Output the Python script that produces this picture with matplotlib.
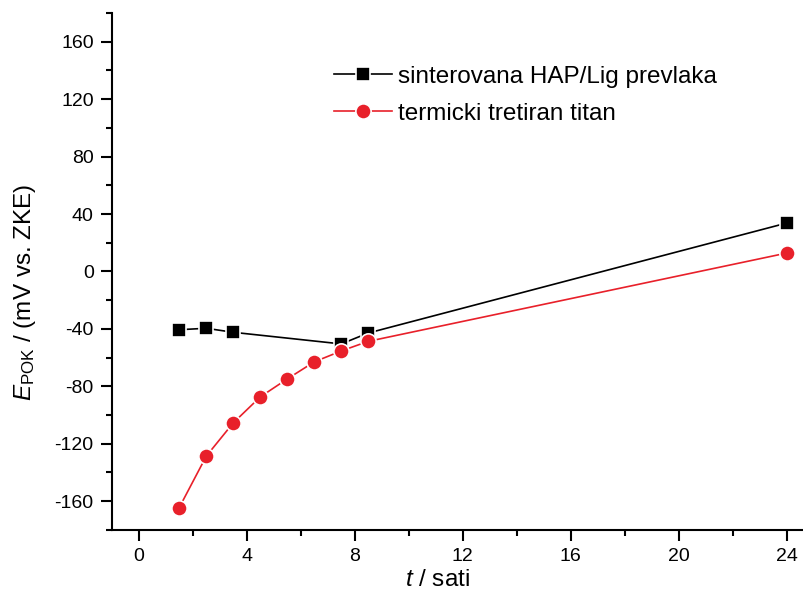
import numpy as np
import matplotlib
matplotlib.use("Agg")
import matplotlib.pyplot as plt
from matplotlib.ticker import MultipleLocator

plt.rcParams['font.family'] = ['Liberation Sans', 'DejaVu Sans']
plt.rcParams['mathtext.fontset'] = 'custom'
plt.rcParams['mathtext.rm'] = 'Liberation Sans'
plt.rcParams['mathtext.it'] = 'Liberation Sans:italic'
plt.rcParams['axes.unicode_minus'] = False

# podaci
t_hap = [1.5, 2.5, 3.5, 7.5, 8.5, 24]
e_hap = [-40.6, -39.6, -42.4, -50.5, -42.9, 33.7]
t_ti = [1.5, 2.5, 3.5, 4.5, 5.5, 6.5, 7.5, 8.5, 24]
e_ti = [-164.5, -128.7, -105.5, -87.4, -74.9, -63.0, -55.4, -48.7, 12.8]
labels = ["sinterovana HAP/Lig prevlaka", "termicki tretiran titan"]

fig = plt.figure(figsize=(8.04, 5.92), dpi=100)
ax = fig.add_axes([0.139, 0.105, 0.861, 0.873])

ax.plot(t_hap, e_hap, color="black", marker="s", markersize=10, linewidth=1.2,
        markeredgecolor="white", markeredgewidth=1.2, label=labels[0])
ax.plot(t_ti, e_ti, color="#e8202a", marker="o", markersize=11, linewidth=1.2,
        markeredgecolor="white", markeredgewidth=1.2, label=labels[1])

ax.set_xlim(-1, 24.64)
ax.set_ylim(-180, 180)
ax.xaxis.set_major_locator(MultipleLocator(4))
ax.xaxis.set_minor_locator(MultipleLocator(2))
ax.yaxis.set_major_locator(MultipleLocator(40))
ax.yaxis.set_minor_locator(MultipleLocator(20))

ax.spines["top"].set_visible(False)
ax.spines["right"].set_visible(False)
for s in ["left", "bottom"]:
    ax.spines[s].set_linewidth(1.5)
ax.tick_params(which="major", direction="out", length=8, width=1.5, labelsize=14, pad=5)
ax.tick_params(which="minor", direction="out", length=4.5, width=1.5)

ax.set_xlabel(r"$t$ / sati", fontsize=17.5)
ax.xaxis.set_label_coords(0.471, -0.076)
ax.set_ylabel(r"$E_{\mathrm{POK}}$ / (mV vs. ZKE)", fontsize=17.5)
ax.yaxis.set_label_coords(-0.106, 0.46)

leg = ax.legend(loc="upper left", bbox_to_anchor=(0.289, 0.94), frameon=False, fontsize=17.5,
                handlelength=2.4, handletextpad=0.25, labelspacing=0.6)

fig.savefig("out.png", dpi=100)
